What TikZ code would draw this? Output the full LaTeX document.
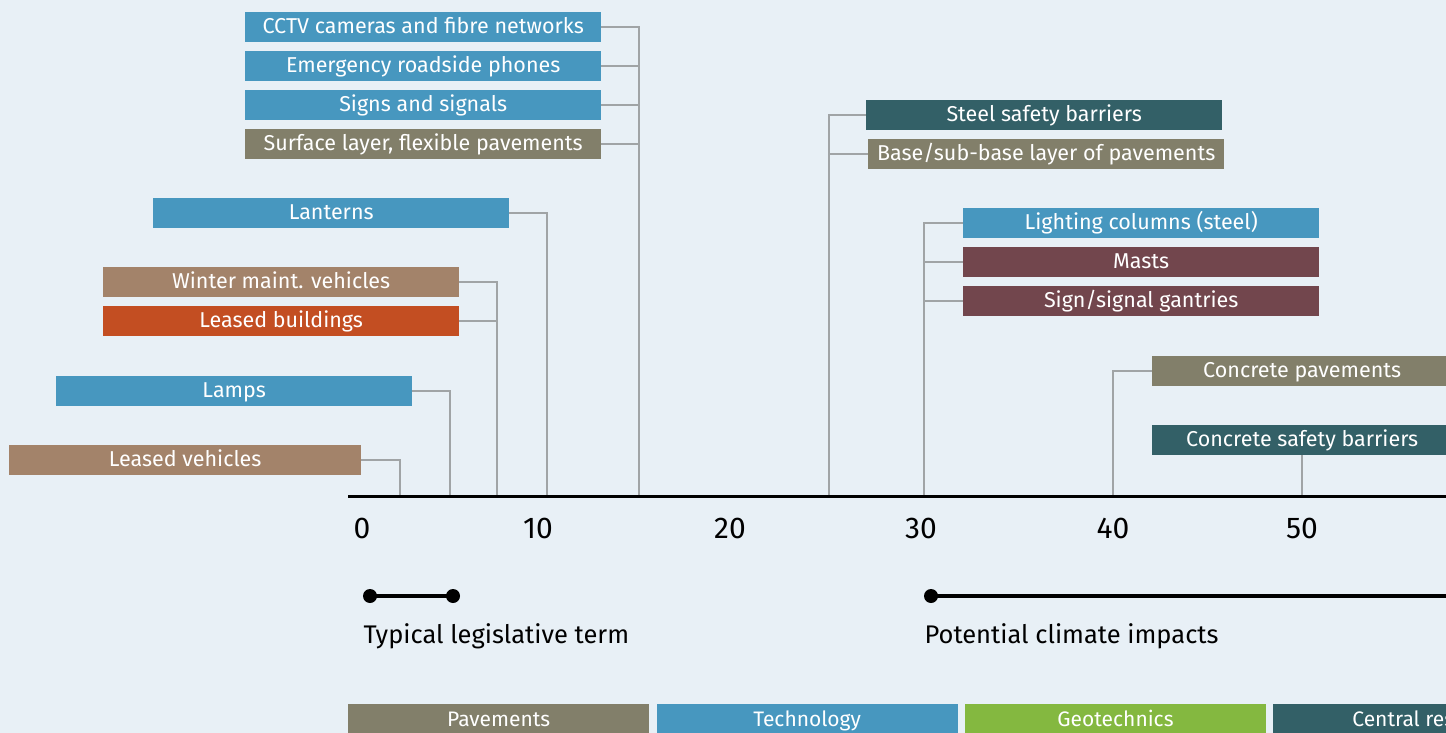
\documentclass[tikz,border=0pt]{standalone}
\usepackage{fontspec}
\setmainfont{Fira Sans}
\usetikzlibrary{positioning}
\definecolor{bg}{HTML}{E8F0F6}
\definecolor{tech}{HTML}{4797BF}
\definecolor{pave}{HTML}{827F6A}
\definecolor{central}{HTML}{336067}
\definecolor{geo}{HTML}{84B840}
\definecolor{fleet}{HTML}{A3836A}
\definecolor{estate}{HTML}{C34E22}
\definecolor{struct}{HTML}{72464D}
\definecolor{linkgrey}{HTML}{A0A4A6}
\tikzset{
  asset/.style={fill=#1, text=white, minimum width=356pt, minimum height=30pt,
    inner sep=0pt, text height=17pt, text depth=4.4pt,
    font=\fontsize{21.5}{21.5}\selectfont},
  link/.style={draw=linkgrey, line width=2pt},
  key/.style={fill=#1, text=white, minimum width=301pt, minimum height=30pt,
    inner sep=0pt, text height=19pt, text depth=3.6pt, anchor=north west,
    font=\fontsize{21}{21}\selectfont},
  tick/.style={font=\fontsize{30}{30}\selectfont},
  span/.style={line width=3.5pt, line cap=round},
}
\begin{document}
\begin{tikzpicture}[x=1pt, y=-1pt, node distance=8.5pt]
  \useasboundingbox (0,0) rectangle (1446,733);
  \clip (0,0) rectangle (1446,733);
  \fill[bg] (0,0) rectangle (1446,733);

  % time axis, years
  \draw[line width=3pt] (348,496) -- (1460,496);
  \foreach \x/\t in {362/0, 538/10, 730/20, 921/30, 1113/40, 1302/50}
    \node[tick] at (\x,528) {\t};
  \foreach \n/\x in {t3/400, t5/450, t8/497, t10/547, t15/639, t25/829, t30/924, t40/1113, t50/1302}
    \coordinate (\n) at (\x,495);

  % short-lived assets
  \node[asset=tech, anchor=west] (cctv) at (245,27) {CCTV cameras and fibre networks};
  \node[asset=tech, below=of cctv] (phones) {Emergency roadside phones};
  \node[asset=tech, below=of phones] (signs) {Signs and signals};
  \node[asset=pave, below=of signs] (surface) {Surface layer, flexible pavements};
  \node[asset=tech, anchor=west] (lanterns) at (153,213) {Lanterns};
  \node[asset=fleet, anchor=west] (winter) at (103,282) {Winter maint. vehicles};
  \node[asset=estate, below=of winter] (buildings) {Leased buildings};
  \node[asset=tech, anchor=west] (lamps) at (56,391) {Lamps};
  \node[asset=fleet, anchor=west, minimum width=352pt] (vehicles) at (9,460) {Leased vehicles};

  % long-lived assets
  \node[asset=central, anchor=west] (steel) at (866,115) {Steel safety barriers};
  \node[asset=pave, anchor=west] (base) at (868,154) {Base/sub-base layer of pavements};
  \node[asset=tech, anchor=west] (columns) at (963,223) {Lighting columns (steel)};
  \node[asset=struct, below=of columns] (masts) {Masts};
  \node[asset=struct, below=of masts] (gantries) {Sign/signal gantries};
  \node[asset=pave, anchor=west, minimum width=300pt] (concpave) at (1152,371) {Concrete pavements};
  \node[asset=central, anchor=west, minimum width=300pt] (concbarrier) at (1152,440) {Concrete safety barriers};

  % leaders down to the axis
  \draw[link] (cctv.east) -| (t15);
  \foreach \a in {phones, signs, surface}
    \draw[link] (\a.east) -- (\a.east -| t15);
  \draw[link] (lanterns.east) -| (t10);
  \draw[link] (winter.east) -| (t8);
  \draw[link] (buildings.east) -- (buildings.east -| t8);
  \draw[link] (lamps.east) -| (t5);
  \draw[link] (vehicles.east) -| (t3);
  \draw[link] (steel.west) -| (t25);
  \draw[link] (base.west) -- (base.west -| t25);
  \draw[link] (columns.west) -| (t30);
  \draw[link] (masts.west) -- (masts.west -| t30);
  \draw[link] (gantries.west) -- (gantries.west -| t30);
  \draw[link] (concpave.west) -| (t40);
  \draw[link] (concbarrier.south -| t50) -- (t50);

  % reference spans
  \coordinate (lawA) at (370,596);
  \coordinate (lawB) at (453,596);
  \coordinate (climA) at (931,596);
  \coordinate (climB) at (1460,596);
  \draw[span] (lawA) -- (lawB);
  \fill (lawA) circle (7pt) (lawB) circle (7pt);
  \draw[line width=3.5pt] (climA) -- (climB);
  \fill (climA) circle (7pt);
  \node[anchor=west, font=\fontsize{25.5}{25.5}\selectfont] (law) at (360,636) {Typical legislative term};
  \node[anchor=west, font=\fontsize{25.5}{25.5}\selectfont] (clim) at (921,636) {Potential climate impacts};

  % colour key
  \node[key=pave] (kpave) at (348,704) {Pavements};
  \node[key=tech, right=7pt of kpave] (ktech) {Technology};
  \node[key=geo, right=7pt of ktech] (kgeo) {Geotechnics};
  \node[key=central, right=7pt of kgeo] (kcentral) {Central reserve};
\end{tikzpicture}
\end{document}
